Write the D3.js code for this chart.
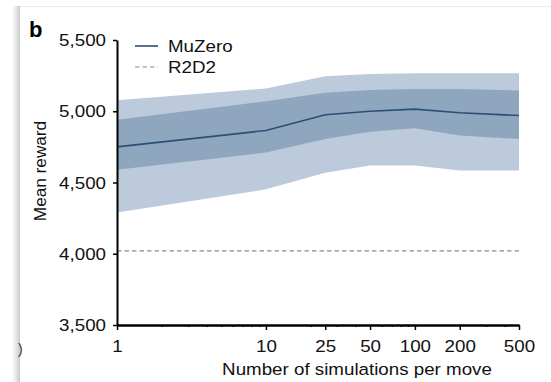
<!DOCTYPE html>
<html>
<head>
<meta charset="utf-8">
<script src="https://cdn.jsdelivr.net/npm/d3@7"></script>
<style>
  html, body { margin: 0; padding: 0; background: #fff; }
  svg { display: block; font-family: "Liberation Sans", Arial, Helvetica, sans-serif; }
</style>
</head>
<body>
<svg id="chart" width="551" height="382"></svg>
<script>
// ---- data ----
const simulations = [1, 10, 25, 50, 100, 200, 500];
const meanReward  = [4750, 4865, 4975, 5000, 5015, 4990, 4970];
const innerUpper  = [4940, 5070, 5130, 5150, 5157, 5157, 5145];
const innerLower  = [4590, 4710, 4806, 4857, 4880, 4830, 4806];
const outerUpper  = [5078, 5160, 5246, 5262, 5266, 5266, 5266];
const outerLower  = [4290, 4452, 4568, 4619, 4619, 4584, 4584];
const r2d2Reward  = 4020;
const yTicks = [3500, 4000, 4500, 5000, 5500];
const xMajorTicks = [1, 10, 25, 50, 100, 200, 500];
const xMinorTicks = [2, 3, 4, 5, 6, 7, 8, 9, 20, 30, 40, 60, 70, 80, 90, 300, 400];
const legendLabels = ["MuZero", "R2D2"];

const FS = 17.2;      // font size
const SX = 1.09;      // horizontal stretch of the reference

const svg = d3.select("#chart");

// page frame artifacts
const defs = svg.append("defs");
const grad = defs.append("linearGradient").attr("id", "edge").attr("x1", 0).attr("x2", 1);
grad.append("stop").attr("offset", 0).attr("stop-color", "#fff");
grad.append("stop").attr("offset", 0.7).attr("stop-color", "#dcdcdc");
grad.append("stop").attr("offset", 1).attr("stop-color", "#c8c8c8");
svg.append("rect").attr("x", 12).attr("y", 6).attr("width", 8).attr("height", 376).attr("fill", "url(#edge)");
svg.append("line").attr("x1", 20).attr("x2", 551).attr("y1", 6.5).attr("y2", 6.5).attr("stroke", "#ececec").attr("stroke-width", 1);
svg.append("text").attr("x", 18).attr("y", 354).attr("font-size", 14).attr("fill", "#333").text(")");

const x = d3.scaleLog().domain([1, 500]).range([117, 519]);
const y = d3.scaleLinear().domain([3500, 5500]).range([325, 40]);

const rows = simulations.map((s, i) => ({
  s, m: meanReward[i], iu: innerUpper[i], il: innerLower[i], ou: outerUpper[i], ol: outerLower[i]
}));

const areaOuter = d3.area().x(d => x(d.s)).y0(d => y(d.ol)).y1(d => y(d.ou));
const areaInner = d3.area().x(d => x(d.s)).y0(d => y(d.il)).y1(d => y(d.iu));
const line = d3.line().x(d => x(d.s)).y(d => y(d.m));

svg.append("path").datum(rows).attr("d", areaOuter).attr("fill", "#bccadb");
svg.append("path").datum(rows).attr("d", areaInner).attr("fill", "#8ea7bf");
svg.append("path").datum(rows).attr("d", line).attr("fill", "none")
  .attr("stroke", "#2b4f74").attr("stroke-width", 1.6);

// R2D2 baseline
svg.append("line")
  .attr("x1", x(1)).attr("x2", x(500))
  .attr("y1", y(r2d2Reward)).attr("y2", y(r2d2Reward))
  .attr("stroke", "#8a8a8a").attr("stroke-width", 1.2).attr("stroke-dasharray", "4.5,3");

// axes
const yAxis = d3.axisLeft(y).tickValues(yTicks).tickFormat(d3.format(",")).tickSize(4).tickSizeOuter(0).tickPadding(0);
const gy = svg.append("g").attr("transform", `translate(${x(1)},0)`).call(yAxis);
gy.select(".domain").attr("stroke", "#000").attr("stroke-width", 2);
gy.selectAll(".tick line").attr("stroke", "#000").attr("stroke-width", 1.5);
gy.selectAll(".tick text").attr("x", null)
  .attr("transform", `translate(-11,0) scale(${SX},1)`)
  .attr("font-size", FS).attr("fill", "#111").attr("font-family", "Liberation Sans, Arial, sans-serif");

const xAxisMinor = d3.axisBottom(x).tickValues(xMinorTicks).tickFormat("").tickSize(2).tickSizeOuter(0);
const gxm = svg.append("g").attr("transform", `translate(0,${y(3500)})`).call(xAxisMinor);
gxm.select(".domain").remove();
gxm.selectAll(".tick line").attr("stroke", "#000").attr("stroke-width", 1.5);

const xAxis = d3.axisBottom(x).tickValues(xMajorTicks).tickFormat(d3.format("d")).tickSize(5).tickSizeOuter(0).tickPadding(10);
const gx = svg.append("g").attr("transform", `translate(0,${y(3500)})`).call(xAxis);
gx.select(".domain").attr("stroke", "#000").attr("stroke-width", 2.5);
gx.selectAll(".tick line").attr("stroke", "#000").attr("stroke-width", 1.5);
gx.selectAll(".tick text").attr("transform", `scale(${SX},1)`)
  .attr("font-size", FS).attr("fill", "#111").attr("font-family", "Liberation Sans, Arial, sans-serif");

// axis titles
svg.append("text").attr("transform", `translate(357,375) scale(${SX},1)`).attr("text-anchor", "middle")
  .attr("font-size", FS).attr("fill", "#111").text("Number of simulations per move");
svg.append("text").attr("transform", "translate(46,171) rotate(-90)").attr("text-anchor", "middle")
  .attr("font-size", FS).attr("fill", "#111").text("Mean reward");

// panel letter
svg.append("text").attr("x", 29).attr("y", 37).attr("font-size", 22).attr("font-weight", "bold")
  .attr("fill", "#000").text("b");

// legend
const lg = svg.append("g");
lg.append("line").attr("x1", 135).attr("x2", 158).attr("y1", 46).attr("y2", 46)
  .attr("stroke", "#2b4f74").attr("stroke-width", 1.6);
lg.append("line").attr("x1", 135).attr("x2", 158).attr("y1", 67).attr("y2", 67)
  .attr("stroke", "#8a8a8a").attr("stroke-width", 1.2).attr("stroke-dasharray", "4.5,3");
lg.append("text").attr("transform", `translate(168,52) scale(${SX},1)`).attr("font-size", FS).attr("fill", "#111").text(legendLabels[0]);
lg.append("text").attr("transform", `translate(168,73) scale(${SX},1)`).attr("font-size", FS).attr("fill", "#111").text(legendLabels[1]);
</script>
</body>
</html>
